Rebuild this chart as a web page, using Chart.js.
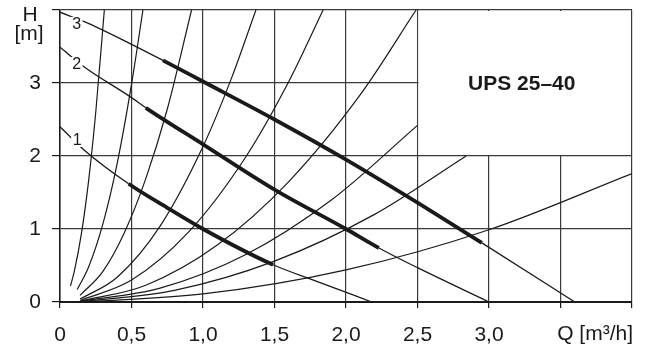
<!DOCTYPE html>
<html>
<head>
<meta charset="utf-8">
<script src="https://cdn.jsdelivr.net/npm/chart.js@4.4.1/dist/chart.umd.min.js"></script>
<style>
  html, body { margin: 0; padding: 0; background: #fff; }
  #wrap { width: 649px; height: 351px; }
</style>
</head>
<body>
<div id="wrap"><canvas id="myChart" width="649" height="351"></canvas></div>
<script>
// pump curves, [Q, H]
const pump1 = [[0, 2.40], [0.17, 2.08], [0.48, 1.62], [0.75, 1.29], [1.0, 1.0], [1.49, 0.51], [1.8, 0.28], [2.18, 0]];
const pump2 = [[0, 3.49], [0.17, 3.22], [0.5, 2.80], [0.6, 2.66], [1.0, 2.16], [1.5, 1.54], [2.0, 1.0], [2.23, 0.74], [2.5, 0.47], [3.0, 0]];
const pump3 = [[0, 3.97], [0.17, 3.84], [0.5, 3.53], [0.72, 3.31], [1.0, 3.02], [1.5, 2.5], [2.0, 1.95], [2.5, 1.36], [2.95, 0.81], [3.6, 0]];
const pumpCurves = [pump1, pump2, pump3];
// Q range where each pump curve is drawn bold
const boldRanges = [[0.48, 1.49], [0.6, 2.23], [0.72, 2.95]];
const pumpLabels = ["1", "2", "3"];
const pumpLabelPos = [[0.12, 2.22], [0.116, 3.26], [0.116, 3.81]];

// system curves
const sys1 = [[0.073, 0.22], [0.1, 0.42], [0.15, 0.94], [0.2, 1.66], [0.25, 2.60], [0.31, 4.0]];
const sys2 = [[0.12, 0.17], [0.2, 0.48], [0.3, 1.07], [0.4, 1.90], [0.5, 2.98], [0.58, 4.0]];
const sys3 = [[0.14, 0.09], [0.3, 0.42], [0.45, 0.95], [0.6, 1.69], [0.75, 2.64], [0.92, 4.0]];
const sys4 = [[0.14, 0.04], [0.4, 0.34], [0.7, 1.04], [1.0, 2.13], [1.2, 3.07], [1.37, 4.0]];
const sys5 = [[0.14, 0.02], [0.5, 0.30], [0.9, 0.96], [1.3, 1.99], [1.6, 3.02], [1.84, 4.0]];
const sys6 = [[0.14, 0.01], [0.6, 0.23], [1.1, 0.78], [1.6, 1.65], [2.1, 2.84], [2.49, 4.0]];
const sys7 = [[0.14, 0.01], [0.7, 0.19], [1.3, 0.65], [1.9, 1.40], [2.5, 2.42]];
const sys8 = [[0.14, 0.0], [0.8, 0.16], [1.5, 0.56], [2.2, 1.20], [2.84, 2.0]];
const sys9 = [[0.14, 0.0], [1.0, 0.11], [2.0, 0.44], [3.0, 0.99], [4.0, 1.76]];
const systemCurves = [sys1, sys2, sys3, sys4, sys5, sys6, sys7, sys8, sys9];

// axes
const qMax = 4.0;
const hMax = 4;
const title = "UPS 25\u201340";
const boxCorner = [2.5, 2]; // blank area up to the top right corner
const yTitle = ["H", "[m]"];
const xTitle = "Q [m\u00b3/h]";

const FONT = "'Liberation Sans', Arial, sans-serif";
const INK = "#1a1a1a";
const GRID = "#3a3a3a";

const toPoints = (arr) => arr.map((p) => ({ x: p[0], y: p[1] }));

let datasets = [];
systemCurves.forEach((c) => {
  datasets.push({
    data: toPoints(c),
    borderColor: INK,
    borderWidth: 1.2,
    pointRadius: 0,
    cubicInterpolationMode: "monotone",
  });
});
pumpCurves.forEach((c, i) => {
  const r = boldRanges[i];
  datasets.push({
    data: toPoints(c),
    borderColor: INK,
    borderWidth: 1.3,
    pointRadius: 0,
    cubicInterpolationMode: "monotone",
    segment: {
      borderWidth: (ctx) =>
        ctx.p0.parsed.x >= r[0] - 1e-6 && ctx.p1.parsed.x <= r[1] + 1e-6 ? 3.8 : 1.3,
    },
  });
});

const decorPlugin = {
  id: "decor",
  beforeDatasetsDraw(chart) {
    const { ctx, scales } = chart;
    const x = scales.x, y = scales.y;
    const x0 = x.getPixelForValue(boxCorner[0]);
    const x1 = x.getPixelForValue(qMax);
    const y0 = y.getPixelForValue(hMax);
    const y1 = y.getPixelForValue(boxCorner[1]);
    ctx.save();
    ctx.fillStyle = "#fff";
    ctx.fillRect(x0 + 1, y0 + 1, x1 - x0 - 2, y1 - y0 - 2);
    ctx.fillStyle = INK;
    ctx.font = "bold 21px " + FONT;
    ctx.textAlign = "center";
    ctx.textBaseline = "middle";
    ctx.fillText(title, (x0 + x1) / 2 - 3, (y0 + y1) / 2 + 1);
    ctx.restore();
  },
  afterDatasetsDraw(chart) {
    const { ctx, scales } = chart;
    const x = scales.x, y = scales.y;
    ctx.save();
    ctx.font = "16px " + FONT;
    ctx.textAlign = "center";
    ctx.textBaseline = "middle";
    pumpLabels.forEach((t, i) => {
      const px = x.getPixelForValue(pumpLabelPos[i][0]);
      const py = y.getPixelForValue(pumpLabelPos[i][1]);
      ctx.fillStyle = "#fff";
      ctx.fillRect(px - 6, py - 7, 12, 14);
      ctx.fillStyle = INK;
      ctx.fillText(t, px, py + 1);
    });
    ctx.font = "21px " + FONT;
    ctx.fillText(yTitle[0], 30, 15);
    ctx.fillText(yTitle[1], 29, 34);
    ctx.textAlign = "right";
    ctx.fillText(xTitle, x.right + 1, 334);
    ctx.restore();
  },
};

const ctx = document.getElementById("myChart").getContext("2d");
new Chart(ctx, {
  type: "line",
  data: { datasets: datasets },
  plugins: [decorPlugin],
  options: {
    responsive: false,
    animation: false,
    events: [],
    layout: { padding: { left: 0, right: 17, top: 10, bottom: 0 } },
    plugins: { legend: { display: false }, tooltip: { enabled: false } },
    scales: {
      x: {
        type: "linear",
        min: 0,
        max: qMax,
        afterFit: (s) => { s.height = 49; s.paddingLeft = 0; s.paddingRight = 0; },
        ticks: {
          stepSize: 0.5,
          color: INK,
          padding: 15,
          maxRotation: 0,
          font: { family: FONT, size: 21 },
          callback: (v) => (v >= 3.5 ? "" : v === 0 ? "0" : v.toFixed(1).replace(".", ",")),
        },
        grid: { color: GRID, lineWidth: 1.2, tickLength: 6, tickColor: INK },
        border: { color: INK, width: 2 },
      },
      y: {
        type: "linear",
        min: 0,
        max: hMax,
        afterFit: (s) => { s.width = 60; s.paddingTop = 0; s.paddingBottom = 0; },
        ticks: {
          stepSize: 1,
          color: INK,
          padding: 11,
          font: { family: FONT, size: 21 },
          callback: (v) => (v === hMax ? "" : String(v)),
        },
        grid: { color: GRID, lineWidth: 1.2, tickLength: 8, tickColor: INK },
        border: { color: INK, width: 1.5 },
      },
    },
  },
});
</script>
</body>
</html>
